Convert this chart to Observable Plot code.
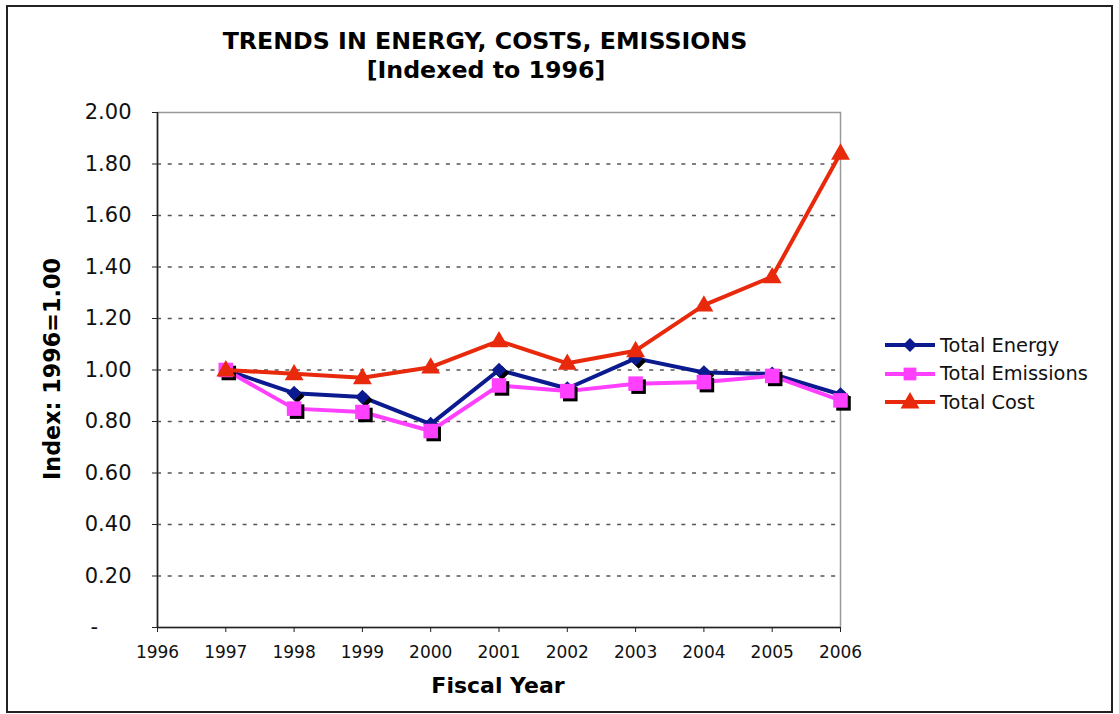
<!DOCTYPE html>
<html>
<head>
<meta charset="utf-8">
<script src="https://cdn.jsdelivr.net/npm/d3@7"></script>
<script src="https://cdn.jsdelivr.net/npm/@observablehq/plot@0.6"></script>
<style>
  html, body { margin: 0; padding: 0; background: #fff; }
  #wrap { position: relative; width: 1119px; height: 714px; font-family: "DejaVu Sans", Verdana, sans-serif; overflow: hidden; }
  #border { position: absolute; left: 6px; top: 5px; width: 1103px; height: 704px; border: 2px solid #222; }
  #chart { position: absolute; left: 0; top: 0; }
  .t { position: absolute; white-space: nowrap; font-weight: bold; color: #000; }
  #legend { position: absolute; left: 884px; top: 331px; font-size: 19.4px; color: #111; }
  #legend .row { display: flex; align-items: center; height: 28.5px; }
  #legend svg { margin-right: 4px; }
</style>
</head>
<body>
<div id="wrap">
  <div id="border"></div>
  <div id="chart"></div>
  <div class="t" id="title1" style="left:485px; top:27px; font-size:23.7px; transform:translateX(-50%);">TRENDS IN ENERGY, COSTS, EMISSIONS</div>
  <div class="t" id="title2" style="left:486px; top:56px; font-size:23.7px; transform:translateX(-50%);">[Indexed to 1996]</div>
  <div class="t" id="ytitle" style="left:52px; top:369px; font-size:22.3px; transform:translate(-50%,-50%) rotate(-90deg);">Index: 1996=1.00</div>
  <div class="t" id="xtitle" style="left:498px; top:673px; font-size:22px; transform:translateX(-50%);">Fiscal Year</div>
  <div id="legend"></div>
</div>
<script>
// ---- data ----
const years = [1997, 1998, 1999, 2000, 2001, 2002, 2003, 2004, 2005, 2006];
const totalEnergy = [1.00, 0.91, 0.895, 0.79, 1.00, 0.928, 1.045, 0.99, 0.985, 0.905];
const totalEmissions = [1.00, 0.85, 0.837, 0.763, 0.94, 0.918, 0.947, 0.953, 0.977, 0.882];
const totalCost = [1.00, 0.985, 0.970, 1.011, 1.113, 1.026, 1.075, 1.252, 1.362, 1.842];
const xTicks = [1996, 1997, 1998, 1999, 2000, 2001, 2002, 2003, 2004, 2005, 2006];
const yTicks = [0, 0.2, 0.4, 0.6, 0.8, 1.0, 1.2, 1.4, 1.6, 1.8, 2.0];
const seriesNames = ["Total Energy", "Total Emissions", "Total Cost"];
const seriesColors = ["#0b1a8f", "#ff40ff", "#e8290c"];
const seriesSymbols = ["diamond2", "square", "triangle"];

const energy = years.map((y, i) => ({year: y, value: totalEnergy[i]}));
const emissions = years.map((y, i) => ({year: y, value: totalEmissions[i]}));
const cost = years.map((y, i) => ({year: y, value: totalCost[i]}));

const chart = Plot.plot({
  width: 1119,
  height: 714,
  marginLeft: 157,
  marginRight: 279,
  marginTop: 112,
  marginBottom: 87,
  style: {fontFamily: "DejaVu Sans, Verdana, sans-serif", background: "transparent", overflow: "visible"},
  x: {domain: [1996, 2006], type: "linear", label: null},
  y: {domain: [0, 2], label: null},
  marks: [
    Plot.ruleY(yTicks.filter(d => d > 0 && d < 2), {stroke: "#555", strokeWidth: 1.3, strokeDasharray: "4,6.7"}),
    Plot.frame({stroke: "#999", strokeWidth: 1.5}),
    Plot.ruleX([1996], {stroke: "#222", strokeWidth: 1.6}),
    Plot.ruleY([0], {stroke: "#222", strokeWidth: 1.6}),
    Plot.axisY({ticks: yTicks, tickSize: 5, tickPadding: 21, fontSize: 21, stroke: "#222", label: null,
      tickFormat: d => d === 0 ? "-\u00a0\u00a0\u00a0\u00a0\u00a0" : d.toFixed(2), color: "#111"}),
    Plot.axisX({ticks: xTicks, tickSize: 5, tickPadding: 13, fontSize: 17, stroke: "#222", label: null,
      tickFormat: d => String(d), color: "#111"}),
    // Energy
    Plot.line(energy, {x: "year", y: "value", stroke: seriesColors[0], strokeWidth: 4}),
    Plot.dot(energy, {x: "year", y: "value", symbol: seriesSymbols[0], r: 6.6, fill: "#000", stroke: "none", dx: 3, dy: 3}),
    Plot.dot(energy, {x: "year", y: "value", symbol: seriesSymbols[0], r: 6.6, fill: seriesColors[0], stroke: "none"}),
    // Emissions
    Plot.line(emissions, {x: "year", y: "value", stroke: seriesColors[1], strokeWidth: 4}),
    Plot.dot(emissions, {x: "year", y: "value", symbol: seriesSymbols[1], r: 8.2, fill: "#000", stroke: "none", dx: 3, dy: 3}),
    Plot.dot(emissions, {x: "year", y: "value", symbol: seriesSymbols[1], r: 8.2, fill: seriesColors[1], stroke: "none"}),
    // Cost
    Plot.line(cost, {x: "year", y: "value", stroke: seriesColors[2], strokeWidth: 4}),
    Plot.dot(cost, {x: "year", y: "value", symbol: seriesSymbols[2], r: 7, fill: seriesColors[2], stroke: "none", dy: 1})
  ]
});
document.getElementById("chart").appendChild(chart);

// legend
const legend = document.getElementById("legend");
seriesNames.forEach((name, i) => {
  const row = document.createElement("div");
  row.className = "row";
  const sw = d3.create("svg").attr("width", 52).attr("height", 20);
  sw.append("line").attr("x1", 1).attr("x2", 51).attr("y1", 10).attr("y2", 10)
    .attr("stroke", seriesColors[i]).attr("stroke-width", 4);
  const sym = {diamond2: d3.symbolDiamond2, square: d3.symbolSquare, triangle: d3.symbolTriangle}[seriesSymbols[i]];
  const size = [Math.PI * 6.3 * 6.3, Math.PI * 7.2 * 7.2, Math.PI * 7 * 7][i];
  sw.append("path").attr("d", d3.symbol(sym, size)()).attr("transform", `translate(26,${i === 2 ? 11 : 10})`)
    .attr("fill", seriesColors[i]);
  row.appendChild(sw.node());
  const label = document.createElement("span");
  label.textContent = name;
  row.appendChild(label);
  legend.appendChild(row);
});
</script>
</body>
</html>
